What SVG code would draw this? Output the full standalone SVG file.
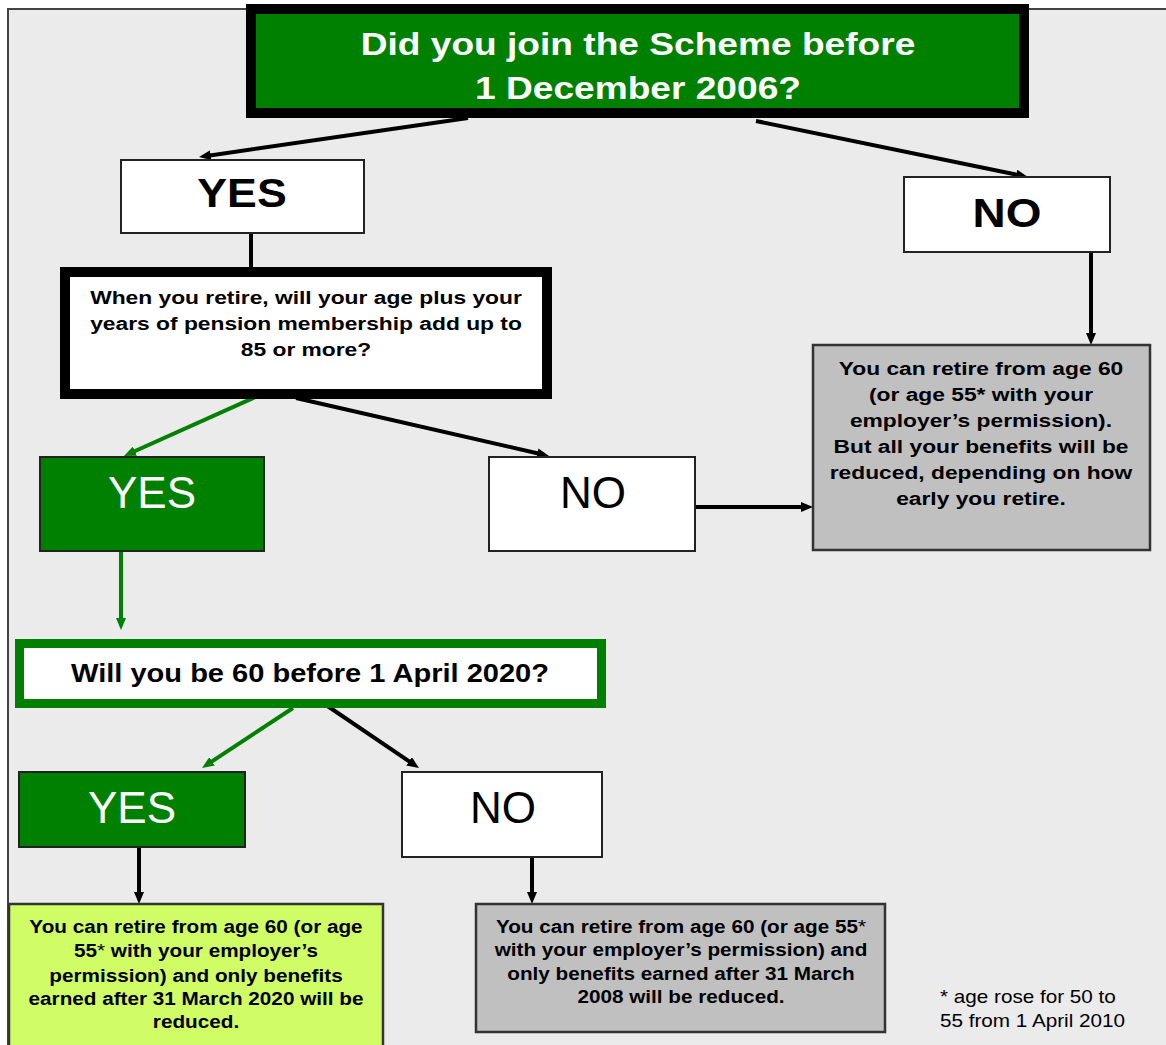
<svg xmlns="http://www.w3.org/2000/svg" width="1166" height="1045" viewBox="0 0 1166 1045">
<defs>
<style>
.t{font-family:"Liberation Sans",Arial,sans-serif;text-anchor:middle}
.b{font-weight:bold}
.lk{stroke:#000;stroke-width:4;fill:none}
.lg{stroke:#008000;stroke-width:4;fill:none}
.thin{stroke:#222;stroke-width:2}
</style>
<marker id="ak" viewBox="0 0 12 10" refX="1" refY="5" markerWidth="12" markerHeight="10" markerUnits="userSpaceOnUse" orient="auto"><path d="M0,0 L12,5 L0,10 z" fill="#000"/></marker>
<marker id="ag" viewBox="0 0 12 10" refX="1" refY="5" markerWidth="12" markerHeight="10" markerUnits="userSpaceOnUse" orient="auto"><path d="M0,0 L12,5 L0,10 z" fill="#008000"/></marker>
</defs>
<rect width="1166" height="1045" fill="#fff"/>
<rect x="8" y="9" width="1170" height="1050" fill="#ebebeb" stroke="#444" stroke-width="2"/>

<g id="connectors">
<line class="lk" x1="468" y1="118" x2="209.9" y2="155.4" marker-end="url(#ak)"/>
<line class="lk" x1="756" y1="121" x2="1017.2" y2="174.8" marker-end="url(#ak)"/>
<line class="lk" x1="251" y1="233" x2="251" y2="268"/>
<line class="lk" x1="1091" y1="252" x2="1091" y2="334" marker-end="url(#ak)"/>
<line class="lg" x1="262" y1="394" x2="134" y2="451.5" marker-end="url(#ag)"/>
<line class="lk" x1="296" y1="398" x2="538.3" y2="453.5" marker-end="url(#ak)"/>
<line class="lk" x1="695" y1="507" x2="802" y2="507" marker-end="url(#ak)"/>
<line class="lg" x1="121" y1="552" x2="121" y2="619" marker-end="url(#ag)"/>
<line class="lg" x1="293" y1="708" x2="211.2" y2="761.9" marker-end="url(#ag)"/>
<line class="lk" x1="326" y1="705" x2="409.9" y2="761.8" marker-end="url(#ak)"/>
<line class="lk" x1="139" y1="847" x2="139" y2="893" marker-end="url(#ak)"/>
<line class="lk" x1="532" y1="849" x2="532" y2="893" marker-end="url(#ak)"/>
</g>

<g id="q1">
<rect x="251" y="9" width="773" height="104" fill="#008000" stroke="#000" stroke-width="10"/>
<g transform="translate(638,0) scale(1.16,1) translate(-638,0)">
<text class="t b" x="638" y="55" font-size="32" fill="#fff">Did you join the Scheme before</text>
<text class="t b" x="638" y="99" font-size="32" fill="#fff">1 December 2006?</text>
</g>
</g>

<g id="yes1">
<rect x="121" y="160" width="243" height="73" fill="#fff" class="thin"/>
<text class="t b" x="242" y="207" font-size="41" transform="translate(242,0) scale(1.09,1) translate(-242,0)">YES</text>
</g>

<g id="no1">
<rect x="904" y="177" width="206" height="75" fill="#fff" class="thin"/>
<text class="t b" x="1007" y="227" font-size="41" transform="translate(1007,0) scale(1.12,1) translate(-1007,0)">NO</text>
</g>

<g id="q2">
<rect x="65" y="272" width="482" height="122" fill="#fff" stroke="#000" stroke-width="10"/>
<g transform="translate(306,0) scale(1.2,1) translate(-306,0)">
<text class="t b" x="306" y="304" font-size="19">When you retire, will your age plus your</text>
<text class="t b" x="306" y="330" font-size="19">years of pension membership add up to</text>
<text class="t b" x="306" y="356" font-size="19">85 or more?</text>
</g>
</g>

<g id="out1">
<rect x="813" y="345" width="337" height="205" fill="#c0c0c0" stroke="#333" stroke-width="2.5"/>
<g transform="translate(981,0) scale(1.2,1) translate(-981,0)">
<text class="t b" x="981" y="375" font-size="19">You can retire from age 60</text>
<text class="t b" x="981" y="401" font-size="19">(or age 55* with your</text>
<text class="t b" x="981" y="427" font-size="19">employer’s permission).</text>
<text class="t b" x="981" y="453" font-size="19">But all your benefits will be</text>
<text class="t b" x="981" y="479" font-size="19">reduced, depending on how</text>
<text class="t b" x="981" y="505" font-size="19">early you retire.</text>
</g>
</g>

<g id="yes2">
<rect x="40" y="457" width="224" height="94" fill="#008000" class="thin"/>
<text class="t" x="152" y="508" font-size="44" fill="#fff">YES</text>
</g>

<g id="no2">
<rect x="489" y="457" width="206" height="94" fill="#fff" class="thin"/>
<text class="t" x="593" y="508" font-size="44">NO</text>
</g>

<g id="q3">
<rect x="19.5" y="643.5" width="582" height="60" fill="#fff" stroke="#008000" stroke-width="9"/>
<text class="t b" x="310" y="682" font-size="25" textLength="478" lengthAdjust="spacingAndGlyphs">Will you be 60 before 1 April 2020?</text>
</g>

<g id="yes3">
<rect x="19" y="772" width="226" height="75" fill="#008000" class="thin"/>
<text class="t" x="132" y="823" font-size="44" fill="#fff">YES</text>
</g>

<g id="no3">
<rect x="402" y="772" width="200" height="85" fill="#fff" class="thin"/>
<text class="t" x="503" y="823" font-size="44">NO</text>
</g>

<g id="out2">
<rect x="9" y="904" width="374" height="160" fill="#d0fc66" stroke="#333" stroke-width="2.5"/>
<g transform="translate(196,0) scale(1.12,1) translate(-196,0)">
<text class="t b" x="196" y="933" font-size="18.5">You can retire from age 60 (or age</text>
<text class="t b" x="196" y="957" font-size="18.5">55<tspan font-weight="normal">*</tspan> with your employer’s</text>
<text class="t b" x="196" y="982" font-size="18.5">permission) and only benefits</text>
<text class="t b" x="196" y="1005" font-size="18.5">earned after 31 March 2020 will be</text>
<text class="t b" x="196" y="1028" font-size="18.5">reduced.</text>
</g>
</g>

<g id="out3">
<rect x="476" y="904" width="409" height="128" fill="#c0c0c0" stroke="#333" stroke-width="2.5"/>
<g transform="translate(681,0) scale(1.12,1) translate(-681,0)">
<text class="t b" x="681" y="933" font-size="18.5">You can retire from age 60 (or age 55<tspan font-weight="normal">*</tspan></text>
<text class="t b" x="681" y="956" font-size="18.5">with your employer’s permission) and</text>
<text class="t b" x="681" y="980" font-size="18.5">only benefits earned after 31 March</text>
<text class="t b" x="681" y="1003" font-size="18.5">2008 will be reduced.</text>
</g>
</g>

<g id="footnote" transform="translate(940,0) scale(1.15,1) translate(-940,0)">
<text font-family="'Liberation Sans',Arial,sans-serif" font-size="18" x="940" y="1003">* age rose for 50 to</text>
<text font-family="'Liberation Sans',Arial,sans-serif" font-size="18" x="940" y="1027">55 from 1 April 2010</text>
</g>
</svg>
